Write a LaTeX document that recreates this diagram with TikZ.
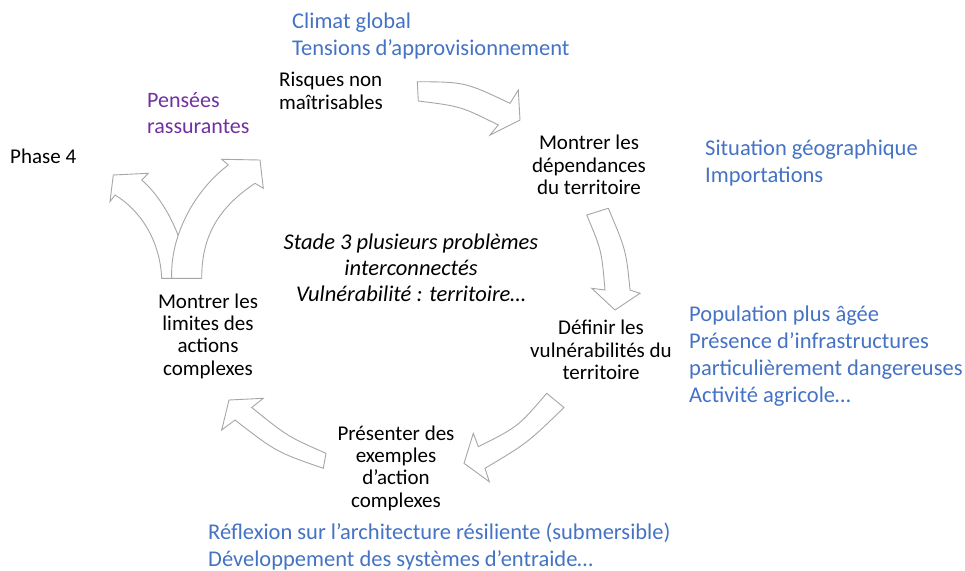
\documentclass[tikz,border=0pt]{standalone}
\usepackage{fontspec}
\setmainfont{Carlito}
\definecolor{noteblue}{HTML}{4472C4}
\definecolor{notepurple}{HTML}{7030A0}
\definecolor{arrowgray}{HTML}{A6A6A6}

\begin{document}
\begin{tikzpicture}[
    x=1pt, y=-1pt,
    stage/.style={align=center, inner sep=0pt, font=\fontsize{21}{22.3}\selectfont},
    note/.style={align=left, anchor=west, inner sep=0pt, text=noteblue, font=\fontsize{22.5}{27}\selectfont},
    blockarrow/.style={draw=arrowgray, fill=white, line width=0.9pt, line join=miter},
]
\useasboundingbox (0,0) rectangle (965,570);

% stages of the cycle
\node[stage, align=left, anchor=west] (risq) at (279,91) {Risques non\\maîtrisables};
\node[stage] (dep) at (589,165) {Montrer les\\dépendances\\du territoire};
\node[stage] (vuln) at (601,350) {Définir les\\vulnérabilités du\\territoire};
\node[stage] (expl) at (396,468) {Présenter des\\exemples\\d’action\\complexes};
\node[stage] (lim) at (208,336) {Montrer les\\limites des\\actions\\complexes};
\node[stage, anchor=west] (phase) at (10,156) {Phase 4};
\node[stage, font=\fontsize{22.5}{26}\selectfont\itshape] (stade) at (411,268)
    {Stade 3 plusieurs problèmes\\interconnectés\\Vulnérabilité : territoire…};

% remarks
\node[note] (clim) at (292,36) {Climat global\\Tensions d’approvisionnement};
\node[note, text=notepurple, font=\fontsize{22}{26}\selectfont] (pens) at (147,113) {Pensées\\rassurantes};
\node[note] (sit) at (705,162.5) {Situation géographique\\Importations};
\node[note] (pop) at (689,356.5) {Population plus âgée\\Présence d’infrastructures\\particulièrement dangereuses\\Activité agricole…};
\node[note] (refl) at (208,547) {Réflexion sur l’architecture résiliente (submersible)\\Développement des systèmes d’entraide…};

% block arrows
\draw[blockarrow] (417.3,81.7) .. controls (465,82) .. (510,103.3) -- (518.3,90) -- (520,120)
    -- (490,135) -- (498.3,125) .. controls (460.7,106.3) .. (418.3,101) -- cycle;
\draw[blockarrow] (608.3,208.3) .. controls (626,250) .. (630,290) -- (640,293.3) -- (615,310)
    -- (591.7,288.3) -- (605,290) .. controls (601.5,250) .. (586.7,215) -- cycle;
\draw[blockarrow] (564,407.5) .. controls (527.4,443) .. (485,468.3) -- (489.3,481.7) -- (464,463.3)
    -- (473.3,433.3) -- (478.3,446.7) .. controls (518.1,426.7) .. (546.7,393.3) -- cycle;
\draw[blockarrow] (323.3,468.3) .. controls (276.3,452) .. (235,420) -- (221.7,430) -- (229,400)
    -- (263.3,398.3) -- (251.7,407.5) .. controls (287.7,436.5) .. (326,453.3) -- cycle;
% fork
\draw[blockarrow] (161.7,278.3) .. controls (160,240) and (140,210) .. (115,195) -- (110,201.7)
    -- (113.3,175) -- (148.3,173.3) -- (141.7,180) .. controls (165,200) and (185,240) .. (188,278.3) -- cycle;
\draw[blockarrow] (171.7,278.3) .. controls (170,235) and (195,190) .. (228.3,165) -- (221.7,159.3)
    -- (260,160) -- (263.3,188.3) -- (255,183.3) .. controls (215,210) and (201.7,240) .. (201.7,278.3) -- cycle;

\end{tikzpicture}
\end{document}
